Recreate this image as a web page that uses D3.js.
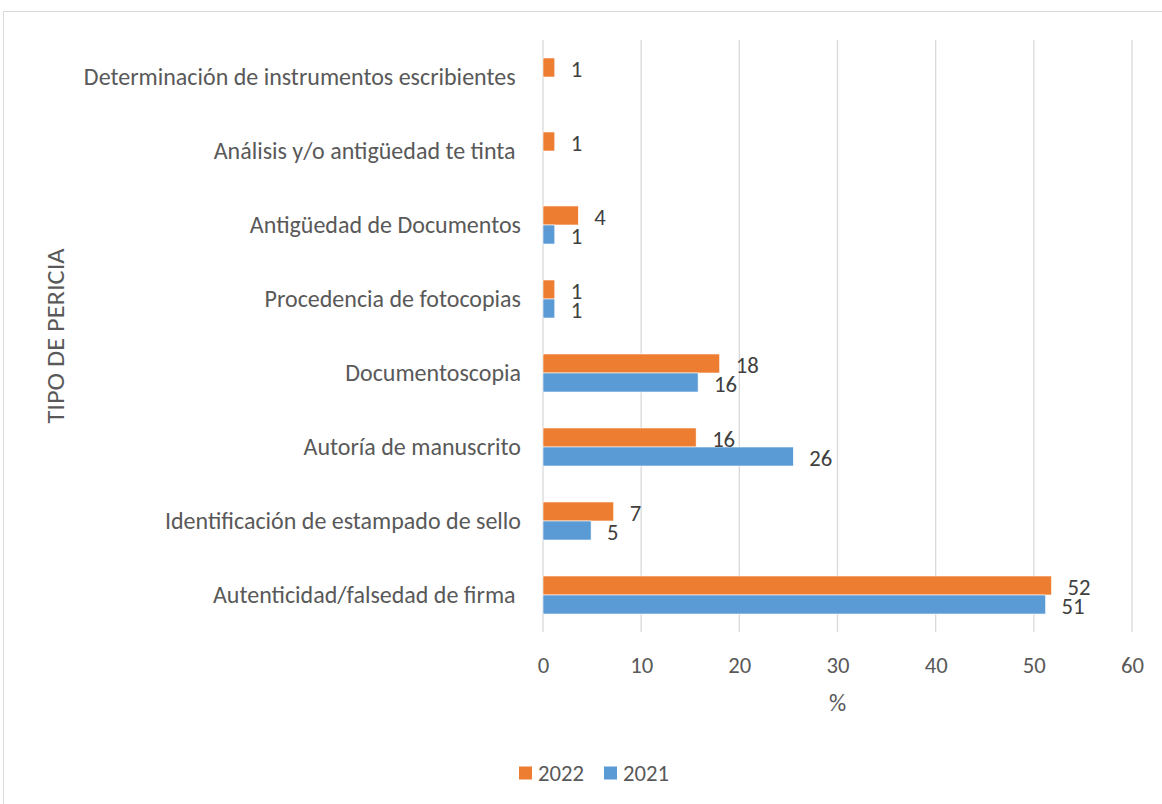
<!DOCTYPE html>
<html>
<head>
<meta charset="utf-8">
<script src="https://cdn.jsdelivr.net/npm/d3@7"></script>
<style>
  html, body { margin: 0; padding: 0; background: #fff; }
  svg text { font-family: Carlito, Lato, "Open Sans", sans-serif; white-space: pre; }
</style>
</head>
<body>
<svg id="chart" width="1162" height="804"></svg>
<script>
const categories = [
  "Determinación de instrumentos escribientes ",
  "Análisis y/o antigüedad te tinta ",
  "Antigüedad de Documentos",
  "Procedencia de fotocopias",
  "Documentoscopia",
  "Autoría de manuscrito",
  "Identificación de estampado de sello",
  "Autenticidad/falsedad de firma "
];
const seriesNames = ["2022", "2021"];
const values2022 = [1.2, 1.2, 3.6, 1.2, 18.0, 15.6, 7.2, 51.8];
const values2021 = [null, null, 1.2, 1.2, 15.8, 25.5, 4.9, 51.2];
const xTicks = [0, 10, 20, 30, 40, 50, 60];
const xTitle = "%";
const yTitle = "TIPO DE PERICIA";

const colors = { "2022": "#ED7D31", "2021": "#5B9BD5" };
const seriesValues = { "2022": values2022, "2021": values2021 };
const FONT = "Carlito, Lato, 'Open Sans', sans-serif";

const svg = d3.select("#chart");

// chart border
svg.append("rect")
  .attr("x", 3.5).attr("y", 11.5)
  .attr("width", 1200).attr("height", 900)
  .attr("fill", "#fff").attr("stroke", "#d9d9d9").attr("stroke-width", 1);

const plot = { left: 543, right: 1132, top: 40, bottom: 632 };

const x = d3.scaleLinear().domain([0, 60]).range([plot.left, plot.right]);
const y = d3.scaleBand().domain(categories).range([plot.top, plot.bottom])
  .paddingInner(0.486).paddingOuter(0.243);
const ySub = d3.scaleBand().domain(seriesNames).range([0, y.bandwidth()]);

// gridlines
svg.append("g").selectAll("line").data(xTicks).join("line")
  .attr("x1", d => x(d)).attr("x2", d => x(d))
  .attr("y1", plot.top).attr("y2", plot.bottom)
  .attr("stroke", "#d9d9d9").attr("stroke-width", 1.3);

// x tick labels
const xAxis = d3.axisBottom(x).tickValues(xTicks).tickSize(0).tickPadding(0);
const gx = svg.append("g").attr("transform", `translate(0, ${plot.bottom + 25})`).call(xAxis);
gx.select(".domain").remove();
gx.selectAll("text")
  .attr("font-size", 22.7).attr("fill", "#595959")
  .attr("font-family", FONT)
  .attr("dy", "0.71em");

// y category labels
const yAxis = d3.axisLeft(y).tickSize(0).tickPadding(0);
const gy = svg.append("g").attr("transform", `translate(${plot.left - 22}, 0)`).call(yAxis);
gy.select(".domain").remove();
gy.selectAll("text")
  .attr("font-size", 24).attr("fill", "#595959")
  .attr("font-family", FONT)
  .attr("dy", "0.35em");

// bars
const rows = [];
categories.forEach((c, i) => {
  seriesNames.forEach(s => {
    const v = seriesValues[s][i];
    if (v !== null && v !== undefined) rows.push({ cat: c, series: s, value: v });
  });
});

svg.append("g").selectAll("rect").data(rows).join("rect")
  .attr("x", x(0))
  .attr("y", d => y(d.cat) + ySub(d.series))
  .attr("width", d => x(d.value) - x(0))
  .attr("height", ySub.bandwidth())
  .attr("fill", d => colors[d.series])
  .attr("stroke", "#fff").attr("stroke-width", 0.6);

// value labels
svg.append("g").selectAll("text").data(rows).join("text")
  .attr("x", d => x(d.value) + 16)
  .attr("y", d => y(d.cat) + ySub(d.series) + ySub.bandwidth() / 2 + 2)
  .attr("dy", "0.35em")
  .attr("font-size", 22.7).attr("fill", "#404040")
  .text(d => Math.round(d.value));

// x title
svg.append("text")
  .attr("x", (plot.left + plot.right) / 2).attr("y", 703)
  .attr("dy", "0.35em").attr("text-anchor", "middle")
  .attr("font-size", 24).attr("fill", "#595959")
  .text(xTitle);

// y title
svg.append("text")
  .attr("transform", `translate(56, ${(plot.top + plot.bottom) / 2}) rotate(-90) scale(1.1, 1)`)
  .attr("dy", "0.35em").attr("text-anchor", "middle")
  .attr("font-size", 24).attr("fill", "#595959")
  .text(yTitle);

// legend
const legendItems = [
  { name: "2022", x: 519 },
  { name: "2021", x: 604 }
];
const lg = svg.append("g").selectAll("g").data(legendItems).join("g")
  .attr("transform", d => `translate(${d.x}, 773)`);
lg.append("rect").attr("x", 0).attr("y", -6.5).attr("width", 13).attr("height", 13)
  .attr("fill", d => colors[d.name]);
lg.append("text").attr("x", 19).attr("dy", "0.35em")
  .attr("font-size", 22.7).attr("fill", "#595959")
  .text(d => d.name);
</script>
</body>
</html>
